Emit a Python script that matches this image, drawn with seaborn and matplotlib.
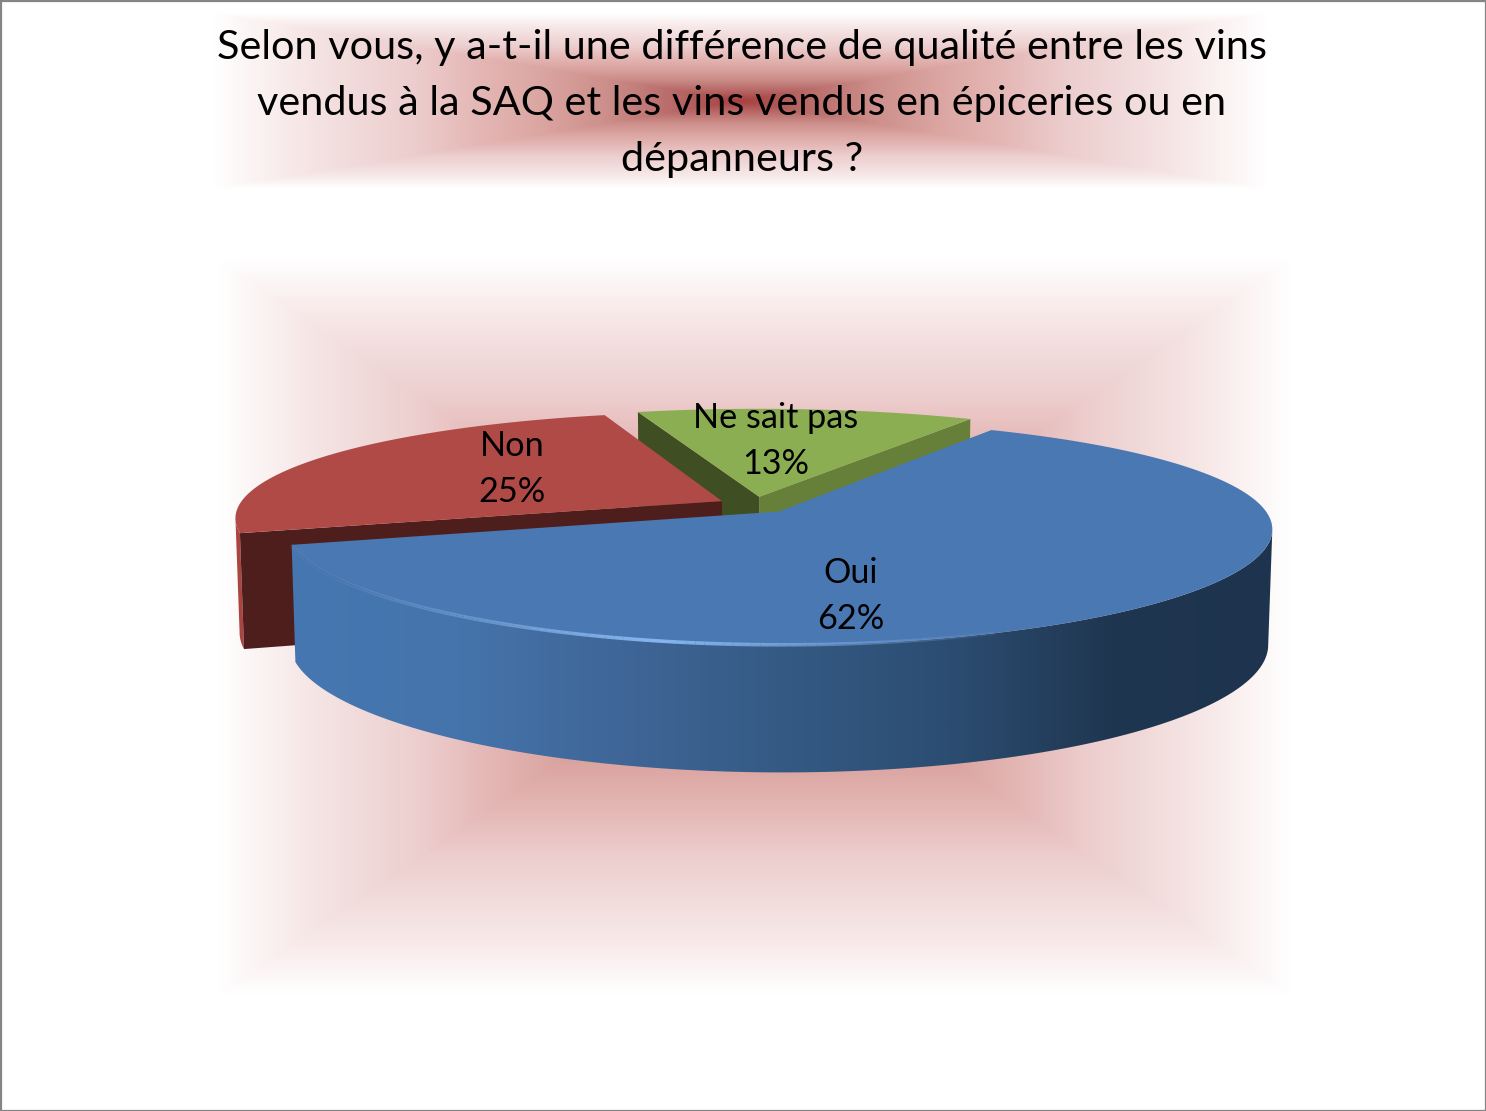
import numpy as np
import matplotlib
matplotlib.use("Agg")
import matplotlib.pyplot as plt
import seaborn as sns
from matplotlib.collections import LineCollection
from matplotlib.patches import Polygon, Rectangle

# Data
labels = ["Oui", "Non", "Ne sait pas"]
shares = [62, 25, 13]
title_lines = [
    "Selon vous, y a-t-il une différence de qualité entre les vins",
    "vendus à la SAQ et les vins vendus en épiceries ou en",
    "dépanneurs ?",
]

# Pixel layout of the fake 3D pie
CX, CY = 755, 505
RX, RY = 483, 106.6
PERSP_X = 0.15
PERSP_Y = 0.18
PERSP_Z = 0.11
DEPTH = 112.7
BOTTOM_SHRINK = 0.992
EXPLODE = 0.078
START = -60

top_colors = ["#4a78b2", "#b04a47", "#8cae53"]
wall_colors = [None, "#a94441", None]
start_face = [None, "#4e1e1d", "#3f4f23"]
end_face = [None, None, "#66803a"]
label_pos = [(851, 596), (512, 469), (776, 441)]

sns.set_theme(style="white")
plt.rcParams["font.family"] = ["Lato", "DejaVu Sans"]

glow = sns.blend_palette(
    ["#a5403f", "#b86a68", "#cc8e8a", "#dba5a1", "#e4b8b6",
     "#edcece", "#f2dcdc", "#f9ecec", "#ffffff"], as_cmap=True)
blue_wall = sns.blend_palette(
    ["#4677b0", "#4574ac", "#3f6697", "#345a84", "#2c4d72", "#1f3650", "#1d334e"],
    as_cmap=True)


def project(u, v, bottom=False):
    shrink = BOTTOM_SHRINK if bottom else 1
    sx = CX + RX * shrink * u / (1 - PERSP_X * v)
    sy = CY + RY * v / (1 - PERSP_Y * v)
    if bottom:
        sy = sy + DEPTH / (1 - PERSP_Z * v)
    return np.column_stack([sx, sy])


def rect_glow(ax, x0, x1, y0, y1, zorder=0):
    xs = np.linspace(-1, 1, 500)
    ys = np.linspace(-1, 1, 300)
    xx, yy = np.meshgrid(xs, ys)
    ax.imshow(np.maximum(np.abs(xx), np.abs(yy)), extent=(x0, x1, y1, y0),
              aspect="auto", cmap=glow, vmin=0, vmax=1, zorder=zorder,
              interpolation="bilinear")


fig = plt.figure(figsize=(14.86, 11.11), dpi=100)
ax = fig.add_axes([0, 0, 1, 1])

rect_glow(ax, 212, 1268, 13, 189)
rect_glow(ax, 218, 1292, 258, 996)

# slices are painted back to front
edges = START + np.cumsum([0] + shares) * 3.6
for i in [2, 1, 0]:
    t0, t1 = edges[i], edges[i + 1]
    mid = np.radians((t0 + t1) / 2)
    off_u, off_v = EXPLODE * np.cos(mid), EXPLODE * np.sin(mid)
    th = np.radians(np.linspace(t0, t1, 240))
    u = off_u + np.cos(th)
    v = off_v + np.sin(th)
    rim_top = project(u, v)
    rim_bot = project(u, v, bottom=True)
    apex_top = project(np.array([off_u]), np.array([off_v]))
    apex_bot = project(np.array([off_u]), np.array([off_v]), bottom=True)

    # only the front of the outer wall can be seen
    front = np.sin(th) >= 0.15
    if front.any():
        wall = np.vstack([rim_top[front], rim_bot[front][::-1]])
        if i == 0:
            patch = Polygon(wall, closed=True, fc="none", ec="none", zorder=3)
            ax.add_patch(patch)
            img = ax.imshow(np.linspace(0, 1, 400)[None, :],
                            extent=(290, 1280, 790, 420), aspect="auto",
                            cmap=blue_wall, zorder=3)
            img.set_clip_path(patch)
        else:
            ax.add_patch(Polygon(wall, closed=True, fc=wall_colors[i], ec="none", zorder=3))
    if start_face[i]:
        face = np.vstack([apex_top, rim_top[0], rim_bot[0], apex_bot])
        ax.add_patch(Polygon(face, closed=True, fc=start_face[i], ec="none", zorder=3))
    if end_face[i]:
        face = np.vstack([apex_top, rim_top[-1], rim_bot[-1], apex_bot])
        ax.add_patch(Polygon(face, closed=True, fc=end_face[i], ec="none", zorder=3))
    ax.add_patch(Polygon(np.vstack([apex_top, rim_top]), closed=True,
                         fc=top_colors[i], ec="none", zorder=3))

    if i == 0:
        # thin light bevel on the front edge
        pts = rim_top[front & (rim_top[:, 0] < 1000)]
        segs = np.stack([pts[:-1], pts[1:]], axis=1)
        a = np.clip(1 - np.abs(segs[:, 0, 0] - 660) / 360, 0.1, 1)
        cols = np.tile(matplotlib.colors.to_rgba("#86b6ee"), (len(segs), 1))
        cols[:, 3] = a
        ax.add_collection(LineCollection(segs, colors=cols, linewidths=2.6, zorder=3.5))

for name, share, (x, y) in zip(labels, shares, label_pos):
    ax.text(x, y, f"{name}\n{share}%", ha="center", va="center", fontsize=24.7,
            color="black", linespacing=1.52, zorder=5)

for line, y in zip(title_lines, [48, 103, 159]):
    ax.text(742, y, line, ha="center", va="center", fontsize=29.8, color="black", zorder=5)

ax.add_patch(Rectangle((0.5, 0.5), 1485, 1110, fc="none", ec="#858585", lw=1.6, zorder=6))

ax.set_xlim(0, 1486)
ax.set_ylim(1111, 0)
ax.axis("off")
fig.savefig("out.png", dpi=100, facecolor="white")
